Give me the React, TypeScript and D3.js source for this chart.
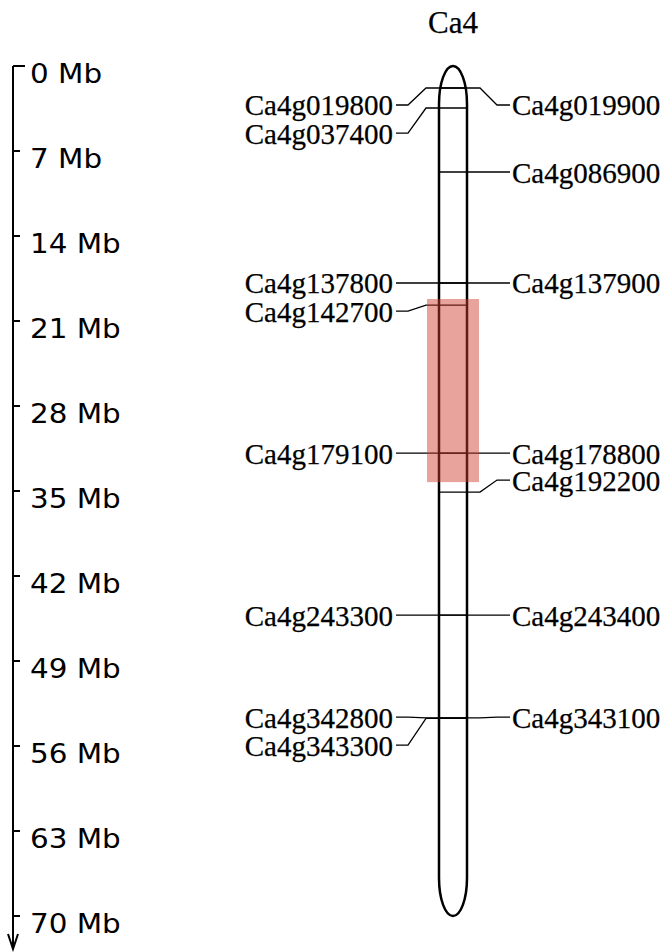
import React from "react";
import * as d3 from "d3";

const chromName = "Ca4";
const chromLengthMb = 70;
const axisTicks = [0, 7, 14, 21, 28, 35, 42, 49, 56, 63, 70];

// marker labels: name, side, marker position (Mb), label position (Mb)
const markerNames = [
  "Ca4g019800", "Ca4g019900", "Ca4g037400", "Ca4g086900",
  "Ca4g137800", "Ca4g137900", "Ca4g142700",
  "Ca4g179100", "Ca4g178800", "Ca4g192200",
  "Ca4g243300", "Ca4g243400",
  "Ca4g342800", "Ca4g343100", "Ca4g343300",
];
const markerSides = [
  "L", "R", "L", "R",
  "L", "R", "L",
  "L", "R", "R",
  "L", "R",
  "L", "R", "L",
];
const markerMb = [
  1.81, 1.81, 3.46, 8.73,
  17.87, 17.87, 19.69,
  31.88, 31.88, 35.09,
  45.22, 45.22,
  53.68, 53.68, 53.72,
];
const labelMb = [
  3.21, 3.21, 5.52, 8.73,
  17.87, 17.87, 20.18,
  31.88, 31.88, 34.1,
  45.22, 45.22,
  53.62, 53.62, 55.93,
];

const highlightStart = 19.19;
const highlightEnd = 34.27;

export default function App() {
  const W = 667;
  const H = 952;
  const y = d3.scaleLinear().domain([0, chromLengthMb]).range([66, 916]);

  const axisX = 13;
  const chromL = 439;
  const chromR = 467;
  const cx = (chromL + chromR) / 2;
  const rx = (chromR - chromL) / 2;
  const ry = 38;
  const top = y(0);
  const bot = y(chromLengthMb);

  const chromPath = `M${chromL},${top + ry} A${rx},${ry} 0 0 1 ${chromR},${top + ry} V${bot - ry} A${rx},${ry} 0 0 1 ${chromL},${bot - ry} Z`;

  const lx0 = 396, lx1 = 408, lx2 = 426;
  const rx2 = 480, rx1 = 497, rx0 = 510;

  const labels = markerNames.map((name, i) => ({
    name,
    side: markerSides[i],
    my: y(markerMb[i]),
    ly: y(labelMb[i]),
  }));

  const serif = "'Liberation Serif', 'Times New Roman', serif";
  const sans = "'DejaVu Sans', Verdana, sans-serif";

  return (
    <svg
      width={W}
      height={H}
      viewBox={`0 0 ${W} ${H}`}
      style={{ position: "absolute", left: 0, top: 0, background: "#fff" }}
    >
      <rect x={0} y={0} width={W} height={H} fill="#fff" />
      {/* axis */}
      <g stroke="#000" strokeWidth={2} fill="none">
        <path d={`M${axisX},${y(0)} V948`} />
        <path d={`M${axisX - 5},${934} L${axisX},${949} L${axisX + 5},${934}`} />
        {axisTicks.map((t, i) => (
          <line key={t} x1={axisX} x2={axisX + (i === 0 ? 12 : 7)} y1={y(t)} y2={y(t)} />
        ))}
      </g>
      {axisTicks.map((t) => (
        <text
          key={"l" + t}
          x={30}
          y={y(t) + 17}
          fontFamily={sans}
          fontSize={26.5}
          fill="#000"
          transform={`translate(30,0) scale(1.11,1) translate(-30,0)`}
        >
          {`${t} Mb`}
        </text>
      ))}

      {/* title */}
      <text x={cx} y={33} textAnchor="middle" fontFamily={serif} fontSize={31} fill="#000" stroke="#000" strokeWidth={0.25}>
        {chromName}
      </text>

      {/* marker lines */}
      <g stroke="#000" strokeWidth={1.3} fill="none">
        {labels.map((l, i) =>
          l.side === "L" ? (
            <path key={i} d={`M${lx0},${l.ly} H${lx1} L${lx2},${l.my} H${chromR}`} />
          ) : (
            <path key={i} d={`M${chromL},${l.my} H${rx2} L${rx1},${l.ly} H${rx0}`} />
          )
        )}
      </g>

      {/* chromosome */}
      <path d={chromPath} fill="none" stroke="#000" strokeWidth={2.5} />

      {/* highlight */}
      <rect
        x={427}
        y={y(highlightStart)}
        width={52}
        height={y(highlightEnd) - y(highlightStart)}
        fill="rgb(205,60,45)"
        fillOpacity={0.47}
      />

      {/* labels */}
      {labels.map((l, i) => (
        <text
          key={"t" + i}
          x={l.side === "L" ? 393 : 512}
          y={l.ly + 10.5}
          textAnchor={l.side === "L" ? "end" : "start"}
          fontFamily={serif}
          fontSize={29}
          fill="#000"
          stroke="#000"
          strokeWidth={0.25}
        >
          {l.name}
        </text>
      ))}
    </svg>
  );
}
